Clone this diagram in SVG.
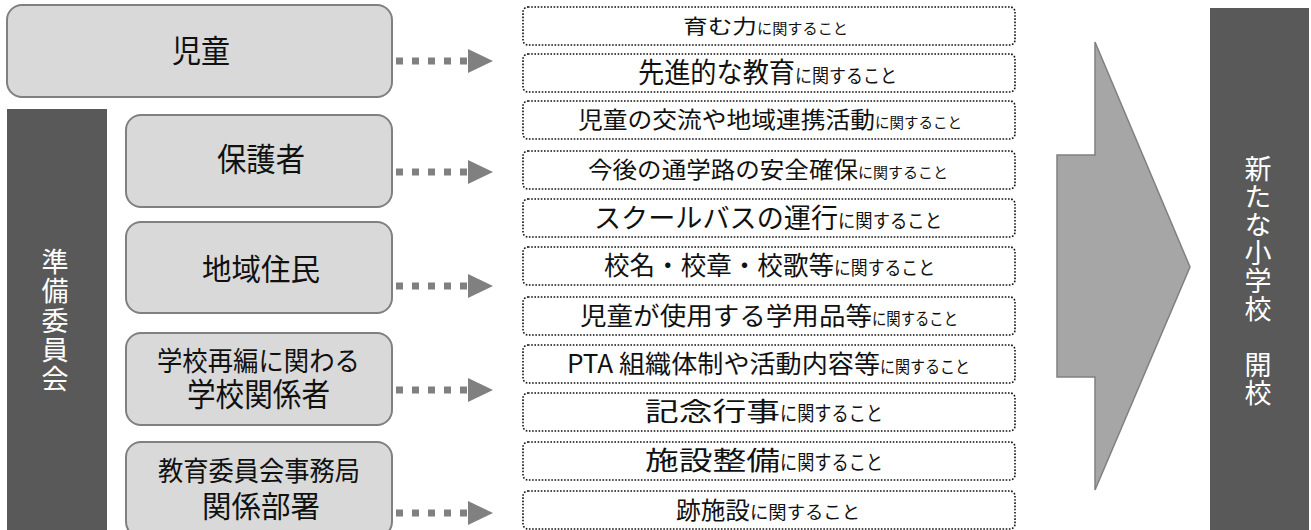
<svg xmlns="http://www.w3.org/2000/svg" width="1311" height="530" viewBox="0 0 1311 530">
<style>
text{font-family:"Noto Sans CJK JP","Noto Sans",sans-serif;fill:#111}
.src{fill:#d9d9d9;stroke:#808080;stroke-width:2}
.band{fill:#595959}
.vt{fill:#fff;writing-mode:vertical-rl;text-orientation:upright}
.topic{fill:#fff;stroke:#111;stroke-width:1.6;stroke-dasharray:1.6 1.6}
.conn{stroke:#808080;stroke-width:7;stroke-dasharray:7 9;fill:none}
</style>
<defs>
<marker id="tri" markerUnits="userSpaceOnUse" markerWidth="26" markerHeight="24" refX="0" refY="12" orient="auto">
<path d="M0,0 L25,12 L0,24 z" fill="#808080"/>
</marker>
</defs>

<g id="band-left">
<rect class="band" x="7" y="109" width="100" height="425"/>
<text class="vt" x="55" y="248" font-size="27" letter-spacing="2.4">準備委員会</text>
</g>

<g id="node-jidou"><rect class="src" x="7" y="5" width="385" height="92" rx="15"/><text x="172" y="62" font-size="31" textLength="58" lengthAdjust="spacingAndGlyphs">児童</text></g>
<g id="node-hogosha"><rect class="src" x="126" y="115" width="266" height="92" rx="15"/><text x="217" y="171" font-size="32" textLength="88" lengthAdjust="spacingAndGlyphs">保護者</text></g>
<g id="node-chiiki"><rect class="src" x="126" y="222" width="266" height="91" rx="15"/><text x="202" y="280" font-size="30" textLength="118" lengthAdjust="spacingAndGlyphs">地域住民</text></g>
<g id="node-gakko"><rect class="src" x="126" y="333" width="266" height="92" rx="15"/><text><tspan x="157" y="371" font-size="27" textLength="203" lengthAdjust="spacingAndGlyphs">学校再編に関わる</tspan><tspan x="187" y="406" font-size="32" textLength="143" lengthAdjust="spacingAndGlyphs">学校関係者</tspan></text></g>
<g id="node-kyoiku"><rect class="src" x="126" y="442" width="266" height="95" rx="15"/><text><tspan x="158" y="481" font-size="27" textLength="202" lengthAdjust="spacingAndGlyphs">教育委員会事務局</tspan><tspan x="202" y="517" font-size="30" textLength="118" lengthAdjust="spacingAndGlyphs">関係部署</tspan></text></g>

<g id="connectors">
<path class="conn" d="M396,61 H468" marker-end="url(#tri)"/>
<path class="conn" d="M396,172 H468" marker-end="url(#tri)"/>
<path class="conn" d="M396,286 H468" marker-end="url(#tri)"/>
<path class="conn" d="M396,390 H468" marker-end="url(#tri)"/>
<path class="conn" d="M396,513 H468" marker-end="url(#tri)"/>
</g>

<g id="topics">
<g id="t1"><rect class="topic" x="523" y="7" width="492" height="38" rx="5"/><text y="33.6"><tspan x="683" font-size="20" textLength="74" lengthAdjust="spacingAndGlyphs">育む力</tspan><tspan x="757" font-size="15" textLength="91" lengthAdjust="spacingAndGlyphs">に関すること</tspan></text></g>
<g id="t2"><rect class="topic" x="523" y="54" width="492" height="38" rx="5"/><text y="83.1"><tspan x="638" font-size="28" textLength="157" lengthAdjust="spacingAndGlyphs">先進的な教育</tspan><tspan x="795" font-size="19" textLength="102" lengthAdjust="spacingAndGlyphs">に関すること</tspan></text></g>
<g id="t3"><rect class="topic" x="523" y="101" width="492" height="38" rx="5"/><text y="128.2"><tspan x="578" font-size="23" textLength="297" lengthAdjust="spacingAndGlyphs">児童の交流や地域連携活動</tspan><tspan x="875" font-size="15" textLength="87" lengthAdjust="spacingAndGlyphs">に関すること</tspan></text></g>
<g id="t4"><rect class="topic" x="523" y="151" width="492" height="38" rx="5"/><text y="178.2"><tspan x="588" font-size="23" textLength="270" lengthAdjust="spacingAndGlyphs">今後の通学路の安全確保</tspan><tspan x="858" font-size="15" textLength="90" lengthAdjust="spacingAndGlyphs">に関すること</tspan></text></g>
<g id="t5"><rect class="topic" x="523" y="199" width="492" height="38" rx="5"/><text y="227.8"><tspan x="594" font-size="27" textLength="244" lengthAdjust="spacingAndGlyphs">スクールバスの運行</tspan><tspan x="838" font-size="19" textLength="104" lengthAdjust="spacingAndGlyphs">に関すること</tspan></text></g>
<g id="t6"><rect class="topic" x="523" y="247" width="492" height="38" rx="5"/><text y="275.4"><tspan x="604" font-size="26" textLength="230" lengthAdjust="spacingAndGlyphs">校名・校章・校歌等</tspan><tspan x="834" font-size="19" textLength="101" lengthAdjust="spacingAndGlyphs">に関すること</tspan></text></g>
<g id="t7"><rect class="topic" x="523" y="297" width="492" height="38" rx="5"/><text y="325"><tspan x="580" font-size="25" textLength="292" lengthAdjust="spacingAndGlyphs">児童が使用する学用品等</tspan><tspan x="872" font-size="17" textLength="86" lengthAdjust="spacingAndGlyphs">に関すること</tspan></text></g>
<g id="t8"><rect class="topic" x="523" y="345" width="492" height="38" rx="5"/><text y="373"><tspan x="567" font-size="25" textLength="313" lengthAdjust="spacingAndGlyphs">PTA 組織体制や活動内容等</tspan><tspan x="880" font-size="17" textLength="90" lengthAdjust="spacingAndGlyphs">に関すること</tspan></text></g>
<g id="t9"><rect class="topic" x="523" y="393" width="492" height="38" rx="5"/><text y="421.4"><tspan x="645" font-size="26" textLength="135" lengthAdjust="spacingAndGlyphs">記念行事</tspan><tspan x="780" font-size="20" textLength="103" lengthAdjust="spacingAndGlyphs">に関すること</tspan></text></g>
<g id="t10"><rect class="topic" x="523" y="442" width="492" height="38" rx="5"/><text y="470.4"><tspan x="645" font-size="26" textLength="135" lengthAdjust="spacingAndGlyphs">施設整備</tspan><tspan x="780" font-size="20" textLength="103" lengthAdjust="spacingAndGlyphs">に関すること</tspan></text></g>
<g id="t11"><rect class="topic" x="523" y="491" width="492" height="38" rx="5"/><text y="519"><tspan x="676" font-size="24" textLength="74" lengthAdjust="spacingAndGlyphs">跡施設</tspan><tspan x="750" font-size="18" textLength="110" lengthAdjust="spacingAndGlyphs">に関すること</tspan></text></g>
</g>

<g id="big-arrow"><polygon points="1057,155 1095,155 1095,42 1190,267 1095,490 1095,377 1057,377" fill="#a6a6a6" stroke="#808080" stroke-width="1.5"/></g>

<g id="band-right">
<rect class="band" x="1210" y="8" width="99" height="530"/>
<text class="vt" x="1258" y="155" font-size="27" letter-spacing="1">新たな小学校　開校</text>
</g>
</svg>
